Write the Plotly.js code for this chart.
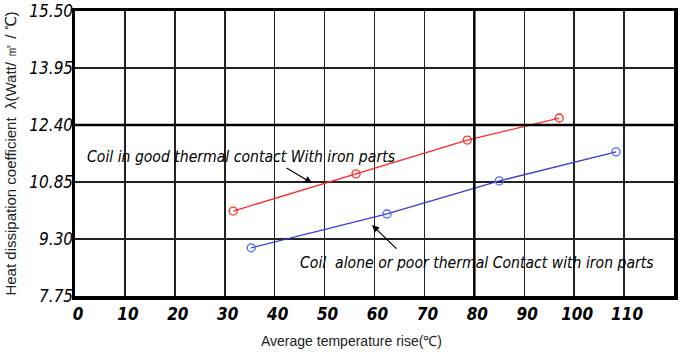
<!DOCTYPE html>
<html>
<head>
<meta charset="utf-8">
<script src="https://cdn.plot.ly/plotly-3.0.1.min.js"></script>
<style>html,body{margin:0;padding:0;background:#fff;}#chart{width:681px;height:354px;}</style>
</head>
<body>
<div id="chart"></div>
<script>
// Data
const goodX = [31.7, 56.3, 78.6, 97.0];
const goodY = [10.06, 11.07, 11.99, 12.59];
const poorX = [35.3, 62.5, 85.0, 108.4];
const poorY = [9.06, 9.98, 10.88, 11.67];
const xTicks = [0, 10, 20, 30, 40, 50, 60, 70, 80, 90, 100, 110];
const yTicks = [7.75, 9.30, 10.85, 12.40, 13.95, 15.50];
const yTickText = ["7.75", "9.30", "10.85", "12.40", "13.95", "15.50"];
const goodLabel = "Coil in good thermal contact With iron parts";
const poorLabel = "Coil  alone or poor thermal Contact with iron parts";
const xTitle = "Average temperature rise(℃)";
const yTitle = "Heat dissipation coefficient  λ(Watt/ ㎡ / ℃)";

const condensed = "'Liberation Sans Narrow', 'DejaVu Sans Condensed', 'Arial Narrow', sans-serif";
const plain = "'Liberation Sans', Arial, sans-serif";

const traces = [
  {x: goodX, y: goodY, mode: 'lines+markers', line: {color: '#ff2a2a', width: 1.3},
   marker: {symbol: 'circle-open', size: 8, color: '#ff2a2a', line: {width: 1.3}}, showlegend: false, cliponaxis: false},
  {x: poorX, y: poorY, mode: 'lines+markers', line: {color: '#3a3ad8', width: 1.3},
   marker: {symbol: 'circle-open', size: 8, color: '#4a6aff', line: {width: 1.3}}, showlegend: false, cliponaxis: false}
];

const layout = {
  width: 681, height: 354,
  margin: {l: 75, r: 7, t: 11, b: 58},
  paper_bgcolor: '#fff', plot_bgcolor: '#fff',
  xaxis: {
    range: [0, 120], tickvals: xTicks, ticktext: xTicks.map(String),
    showgrid: true, gridcolor: '#222', gridwidth: 1.5,
    showline: true, mirror: true, linecolor: '#000', linewidth: 3.5,
    zeroline: false, ticks: '', ticklabelstandoff: 0, ticklabelshift: 3,
    tickfont: {family: condensed, size: 17, color: '#000', style: 'italic', weight: 'bold'}
  },
  yaxis: {
    range: [7.75, 15.5], tickvals: yTicks, ticktext: yTickText,
    showgrid: true, gridcolor: '#222', gridwidth: 1.5,
    showline: true, mirror: true, linecolor: '#000', linewidth: 3.5,
    zeroline: false, ticks: '', ticklabelstandoff: -5,
    tickfont: {family: condensed, size: 17, color: '#000', style: 'italic'},
    title: {text: yTitle, standoff: 10, font: {family: plain, size: 15, color: '#222'}}
  },
  shapes: [
    {type: 'line', xref: 'x', yref: 'paper', x0: 80, x1: 80, y0: 0, y1: 1, line: {color: '#000', width: 2.5}},
    {type: 'line', xref: 'paper', yref: 'y', x0: 0, x1: 1, y0: 12.40, y1: 12.40, line: {color: '#000', width: 2.5}}
  ],
  annotations: [
    {text: goodLabel, xref: 'paper', yref: 'paper', x: (241 - 75) / 599, y: (296 - 157) / 285,
     xanchor: 'center', yanchor: 'middle',
     showarrow: false, font: {family: condensed, size: 15.6, color: '#000', style: 'italic'}},
    {text: poorLabel, xref: 'paper', yref: 'paper', x: (477 - 75) / 599, y: (296 - 263) / 285,
     xanchor: 'center', yanchor: 'middle',
     showarrow: false, font: {family: condensed, size: 15.6, color: '#000', style: 'italic'}},
    {text: '', x: 47.5, y: 10.82, xref: 'x', yref: 'y', showarrow: true, arrowhead: 2, arrowsize: 1.2, arrowwidth: 1.2,
     arrowcolor: '#000', ax: -27, ay: -16},
    {text: '', x: 59.5, y: 9.68, xref: 'x', yref: 'y', showarrow: true, arrowhead: 2, arrowsize: 1.2, arrowwidth: 1.2,
     arrowcolor: '#000', ax: 26, ay: 25},
    {text: xTitle, xref: 'paper', yref: 'paper', x: (351 - 75) / 599, y: (296 - 341) / 285,
     xanchor: 'center', yanchor: 'middle',
     showarrow: false, font: {family: plain, size: 14, color: '#222'}}
  ]
};

Plotly.newPlot('chart', traces, layout, {displayModeBar: false, staticPlot: true});
</script>
</body>
</html>
